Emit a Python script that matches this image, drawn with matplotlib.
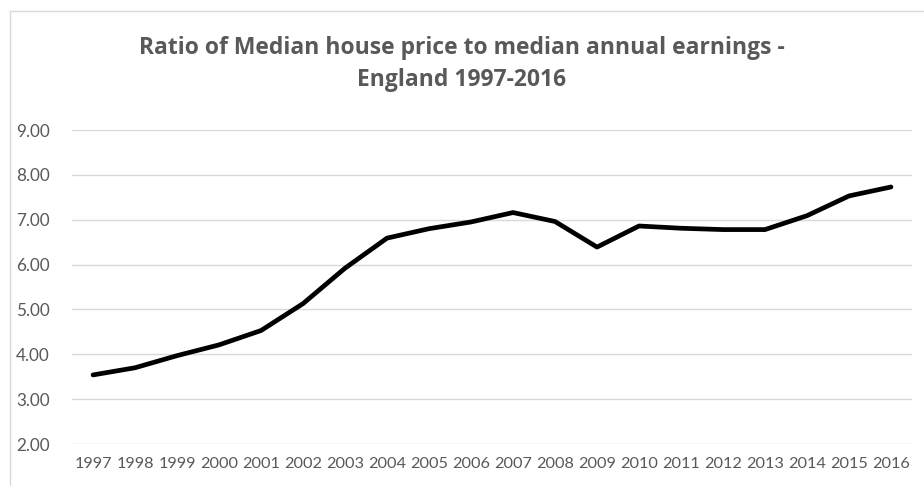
import matplotlib
matplotlib.use("Agg")
import matplotlib.pyplot as plt
from matplotlib.lines import Line2D

years = [str(y) for y in range(1997, 2017)]
ratio = [3.54, 3.70, 3.97, 4.21, 4.53, 5.13, 5.92, 6.59, 6.80, 6.95,
         7.16, 6.96, 6.39, 6.86, 6.81, 6.78, 6.78, 7.09, 7.53, 7.73]
yticks = [2, 3, 4, 5, 6, 7, 8, 9]

grey = "#595959"
plt.rcParams['font.family'] = ['Lato', 'DejaVu Sans']

fig = plt.figure(figsize=(9.24, 4.86), dpi=100)
ax = fig.add_axes([0.078, 0.0864, 0.909, 0.6461])

x = list(range(len(years)))
ax.plot(x, ratio, color="black", linewidth=3.4, solid_capstyle="round", solid_joinstyle="round", zorder=3)

ax.set_xlim(-0.5, len(years) - 0.5)
ax.set_ylim(2, 9)
ax.set_xticks(x)
ax.set_xticklabels(years)
ax.set_yticks(yticks)
ax.set_yticklabels(["%.2f" % v for v in yticks])
ax.tick_params(axis="both", length=0, colors=grey, labelsize=12.3)
ax.tick_params(axis="x", labelsize=11.7, pad=9)
ax.tick_params(axis="y", pad=16)
ax.grid(axis="y", color="#d9d9d9", linewidth=1)
ax.set_axisbelow(True)
for s in ax.spines.values():
    s.set_visible(False)

# chart area border (cropped screenshot)
fig.add_artist(Line2D([10 / 924, 1], [1 - 11 / 486, 1 - 11 / 486], color="#d9d9d9", linewidth=1))
fig.add_artist(Line2D([10 / 924, 10 / 924], [0, 1 - 11 / 486], color="#d9d9d9", linewidth=1))

fig.text(0.5, 1 - 64 / 486, "Ratio of Median house price to median annual earnings -\nEngland 1997-2016",
         ha="center", va="center", fontsize=16.5, fontweight="bold", color=grey, linespacing=1.45,
         family=["Open Sans", "DejaVu Sans"])

fig.savefig("out.png", dpi=100)
